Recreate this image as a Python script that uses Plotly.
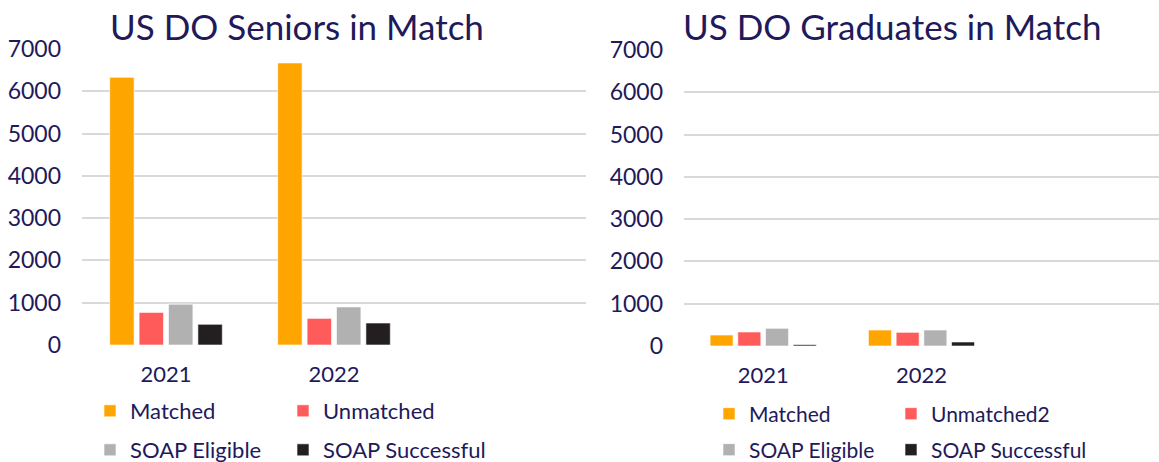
import plotly.graph_objects as go

years = ["2021", "2022"]
series_names_left = ["Matched", "Unmatched", "SOAP Eligible", "SOAP Successful"]
series_names_right = ["Matched", "Unmatched2", "SOAP Eligible", "SOAP Successful"]
seniors_matched = [6330, 6670]
seniors_unmatched = [770, 630]
seniors_soap_eligible = [965, 900]
seniors_soap_successful = [490, 520]
grads_matched = [260, 378]
grads_unmatched = [331, 323]
grads_soap_eligible = [418, 378]
grads_soap_successful = [32, 95]
y_ticks = [0, 1000, 2000, 3000, 4000, 5000, 6000, 7000]
title_left = "US DO Seniors in Match"
title_right = "US DO Graduates in Match"

colors = ["#FFA500", "#FF5B5B", "#B1B1B1", "#231F20"]
TEXT = "#21195A"
FONT = "Lato"
W, H = 1159, 462


def px_x(p):
    return p / W


def px_y(p):
    return (H - p) / H


left_values = [seniors_matched, seniors_unmatched, seniors_soap_eligible, seniors_soap_successful]
right_values = [grads_matched, grads_unmatched, grads_soap_eligible, grads_soap_successful]

# legend slots (text start x, row centre y) in window pixels
left_slots = [(129, 411), (322, 411), (129, 450), (322, 450)]
right_slots = [(748, 414), (930, 414), (748, 450), (930, 450)]

fig = go.Figure()
layout_legends = {}
idx = 1
for names, values, axes, slots, fsize in [
    (series_names_left, left_values, ("x", "y"), left_slots, 22),
    (series_names_right, right_values, ("x2", "y2"), right_slots, 21),
]:
    for name, vals, col, slot in zip(names, values, colors, slots):
        key = "legend" if idx == 1 else f"legend{idx}"
        fig.add_trace(go.Bar(
            x=years, y=vals, name=name,
            marker=dict(color=col, line=dict(color="rgba(255,255,255,0.6)", width=1)),
            xaxis=axes[0], yaxis=axes[1], legend=key,
        ))
        layout_legends[key] = dict(
            x=px_x(slot[0] - 39), y=px_y(slot[1]), xanchor="left", yanchor="middle",
            orientation="h", bgcolor="rgba(0,0,0,0)",
            font=dict(family=FONT, size=fsize, color=TEXT),
        )
        idx += 1

yaxis_common = dict(range=[0, 7000], tickvals=y_ticks, showgrid=True, gridcolor="#D9D9D9", gridwidth=1.5,
                    zeroline=False, showline=False, ticks="", ticklabelstandoff=20,
                    tickfont=dict(family=FONT, size=23, color=TEXT), fixedrange=True)
xaxis_common = dict(type="category", range=[-0.5, 2.5], showgrid=False, zeroline=False, showline=False,
                    ticks="", ticklabelstandoff=14, tickfont=dict(family=FONT, size=22, color=TEXT))

fig.update_layout(
    width=W, height=H,
    margin=dict(l=0, r=0, t=0, b=0, autoexpand=False),
    paper_bgcolor="white", plot_bgcolor="white",
    barmode="group", bargap=0.30, bargroupgap=0.17,
    xaxis=dict(domain=[px_x(82), px_x(586)], anchor="y", **xaxis_common),
    yaxis=dict(domain=[px_y(345), px_y(49)], anchor="x", **yaxis_common),
    xaxis2=dict(domain=[px_x(684), 1.0], anchor="y2", **xaxis_common),
    yaxis2=dict(domain=[px_y(346), px_y(50)], anchor="x2", **yaxis_common),
    annotations=[
        dict(text=title_left, x=px_x(108), y=px_y(26), xref="paper", yref="paper", xanchor="left", yanchor="middle",
             showarrow=False, font=dict(family=FONT, size=35, color=TEXT)),
        dict(text=title_right, x=px_x(681), y=px_y(26), xref="paper", yref="paper", xanchor="left", yanchor="middle",
             showarrow=False, font=dict(family=FONT, size=35, color=TEXT)),
    ],
    showlegend=True,
    **layout_legends,
)

fig.write_html("out.html", config={"displayModeBar": False},
               post_script="document.body.style.margin='0';")
